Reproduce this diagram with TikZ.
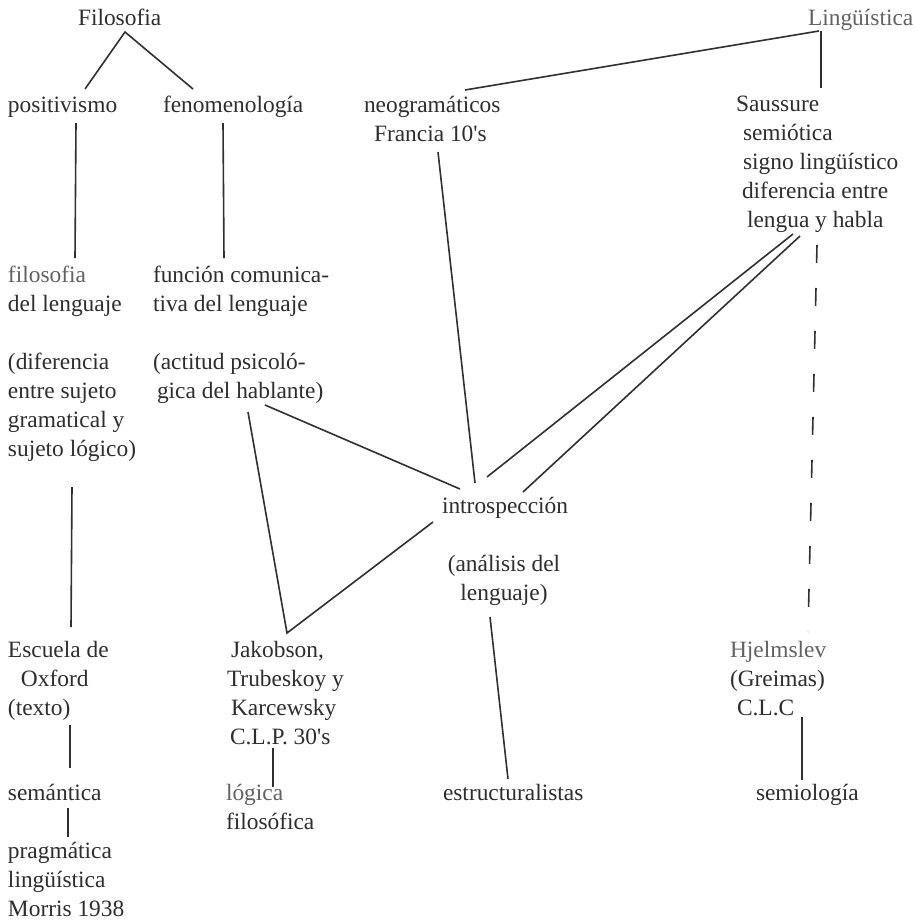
\documentclass[tikz,border=0pt]{standalone}
\usepackage{fontspec}
\setmainfont{Liberation Serif}[Ligatures=TeXOff]
\definecolor{txtc}{HTML}{2E2E2E}
\definecolor{lite}{HTML}{626262}
\definecolor{linec}{HTML}{303030}
\newcommand{\lns}[1]{\begin{tabular}[t]{@{}l@{}}#1\end{tabular}}
\newcommand{\clns}[1]{\begin{tabular}[t]{@{}c@{}}#1\end{tabular}}
\begin{document}
\begin{tikzpicture}[x=1pt,y=-1pt,
  txt/.style={anchor=base west, inner sep=0pt, outer sep=0pt, text=txtc, font=\fontsize{23.4}{29}\selectfont},
  faint/.style={text=lite},
  conn/.style={draw=linec, line width=1.6pt},
  dashconn/.style={conn, dash pattern=on 18pt off 25pt}]
\useasboundingbox[fill=white] (0,0) rectangle (916,922);

% ---- nodes ----
\node[txt] (filo) at (78,25) {Filosofia};
\node[txt,faint] (ling) at (808,25) {Lingüística};
\node[txt] (posit) at (8,112) {positivismo};
\node[txt] (fenom) at (163,112) {fenomenología};
\node[txt] (neog) at (364,112) {\lns{neogramáticos\\\hspace*{10pt}Francia 10's}};
\node[txt] (saus) at (736,111) {\lns{Saussure\\\hspace*{7pt}semiótica\\\hspace*{7pt}signo lingüístico\\\hspace*{6pt}diferencia entre\\\hspace*{11pt}lengua y habla}};
\node[txt] (filoleng) at (8,282) {\lns{{\color{lite}filosofia}\\del lenguaje\\ \\(diferencia\\entre sujeto\\gramatical y\\sujeto lógico)}};
\node[txt] (func) at (153,282) {\lns{función comunica-\\tiva del lenguaje\\ \\(actitud psicoló-\\\hspace*{4pt}gica del hablante)}};
\node[txt] (intro) at (442,513) {introspección};
\node[txt,anchor=base] (anal) at (504,571) {\clns{(análisis del\\lenguaje)}};
\node[txt] (escuela) at (8,657) {\lns{Escuela de\\\hspace*{13pt}Oxford\\(texto)}};
\node[txt] (sem) at (8,800) {semántica};
\node[txt] (prag) at (8,858) {\lns{pragmática\\lingüística\\Morris 1938}};
\node[txt] (jak) at (227,657) {\lns{\hspace*{4pt}Jakobson,\\Trubeskoy y\\\hspace*{4pt}Karcewsky\\\hspace*{3pt}C.L.P. 30's}};
\node[txt] (logica) at (226,800) {\lns{{\color{lite}lógica}\\filosófica}};
\node[txt] (estr) at (443,800) {estructuralistas};
\node[txt] (hjel) at (730,657) {\lns{{\color{lite}Hjelmslev}\\(Greimas)\\\hspace*{7pt}C.L.C}};
\node[txt] (semio) at (756,800) {semiología};

% ---- connector end points ----
\coordinate (filoB) at (125,32);
\coordinate (positT) at (85,89);
\coordinate (fenomT) at (193,89);
\coordinate (lingB) at (819,31);
\coordinate (lingB2) at (821,31);
\coordinate (neogT) at (465,90);
\coordinate (sausT) at (821,88);
\coordinate (positB) at (76,123);
\coordinate (filolengT) at (75,258);
\coordinate (fenomB) at (223,123);
\coordinate (funcT) at (224,258);
\coordinate (neogB) at (438,152);
\coordinate (introA) at (475,483);
\coordinate (sausB1) at (793,234);
\coordinate (introB) at (487,477);
\coordinate (sausB2) at (800,236);
\coordinate (introC) at (523,492);
\coordinate (sausB3) at (817,245);
\coordinate (hjelT) at (808,632);
\coordinate (funcB1) at (265,405);
\coordinate (introD) at (460,489);
\coordinate (funcB2) at (248,412);
\coordinate (jakT) at (287,633);
\coordinate (introE) at (433,522);
\coordinate (filolengB) at (72,487);
\coordinate (escuelaT) at (71,627);
\coordinate (escuelaB) at (70,725);
\coordinate (semT) at (70,768);
\coordinate (semB) at (68,808);
\coordinate (pragT) at (68,837);
\coordinate (jakB) at (273,748);
\coordinate (logicaT) at (273,787);
\coordinate (analB) at (490,617);
\coordinate (estrT) at (508,779);
\coordinate (hjelB) at (802,717);
\coordinate (semioT) at (802,780);

% ---- connectors ----
\draw[conn] (positT) -- (filoB) -- (fenomT);
\draw[conn] (lingB) -- (neogT);
\draw[conn] (lingB2) -- (sausT);
\draw[conn] (positB) -- (filolengT);
\draw[conn] (fenomB) -- (funcT);
\draw[conn] (neogB) -- (introA);
\draw[conn] (sausB1) -- (introB);
\draw[conn] (sausB2) -- (introC);
\draw[dashconn] (sausB3) -- (hjelT);
\draw[conn] (funcB1) -- (introD);
\draw[conn] (funcB2) -- (jakT) -- (introE);
\draw[conn] (filolengB) -- (escuelaT);
\draw[conn] (escuelaB) -- (semT);
\draw[conn, line width=2.3pt] (semB) -- (pragT);
\draw[conn] (jakB) -- (logicaT);
\draw[conn] (analB) -- (estrT);
\draw[conn] (hjelB) -- (semioT);
\end{tikzpicture}
\end{document}
